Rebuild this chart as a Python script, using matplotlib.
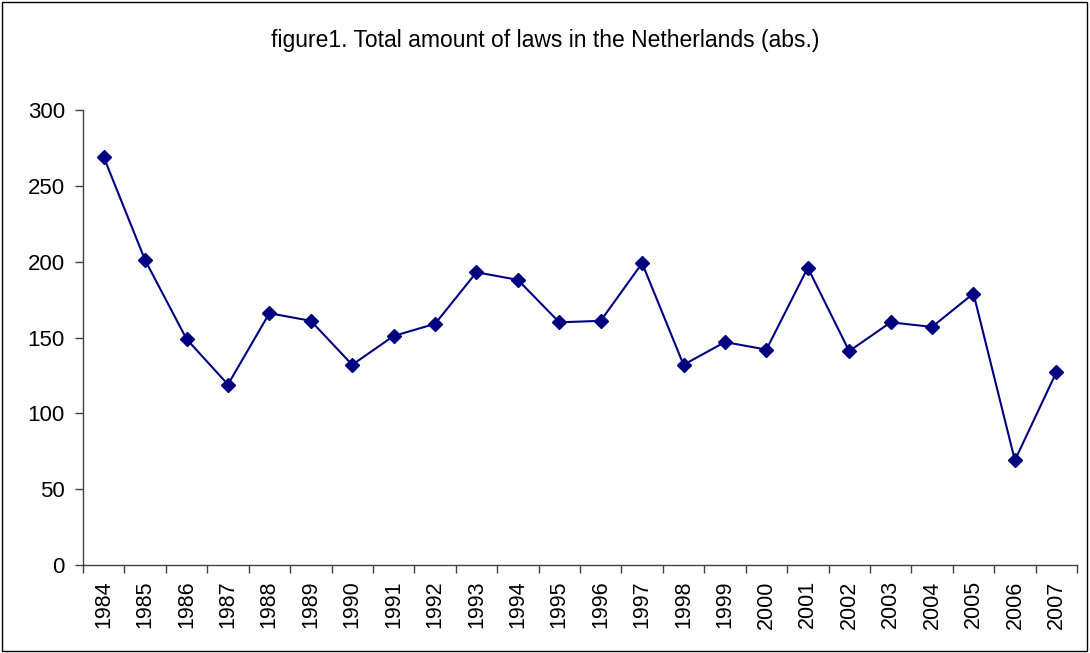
import matplotlib
matplotlib.use("Agg")
import matplotlib.pyplot as plt
from matplotlib.patches import Rectangle
import numpy as np

years = ["1984", "1985", "1986", "1987", "1988", "1989", "1990", "1991", "1992", "1993",
         "1994", "1995", "1996", "1997", "1998", "1999", "2000", "2001", "2002", "2003",
         "2004", "2005", "2006", "2007"]
laws = [269, 201, 149, 119, 166, 161, 132, 151, 159, 193,
        188, 160, 161, 199, 132, 147, 142, 196, 141, 160,
        157, 179, 69, 127]
yticks = [0, 50, 100, 150, 200, 250, 300]
title = "figure1. Total amount of laws in the Netherlands (abs.)"

plt.rcParams['font.family'] = ['Liberation Sans', 'DejaVu Sans']

fig = plt.figure(figsize=(10.9, 6.53), dpi=100)
ax = fig.add_axes([83/1090, 1-565/653, 994/1090, 455/653])

x = np.arange(len(years))
ax.plot(x, laws, color='#000080', linewidth=1.5, marker='D', markersize=7,
        markerfacecolor='#000080', markeredgecolor='#000080')

ax.set_xlim(-0.5, len(years) - 0.5)
ax.set_ylim(0, 300)
ax.set_yticks(yticks)
ax.set_yticklabels([str(v) for v in yticks], fontsize=16)
ax.set_xticks(x)
ax.set_xticklabels(years, rotation=90, fontsize=15.5)
ax.set_xticks(np.arange(len(years) + 1) - 0.5, minor=True)
ax.tick_params(axis='x', which='major', length=0, pad=11)
ax.tick_params(axis='x', which='minor', length=6, width=1, color='#404040', direction='out')
ax.tick_params(axis='y', length=6, width=1, color='#404040', direction='out', pad=7)

for s in ['top', 'right']:
    ax.spines[s].set_visible(False)
for s in ['left', 'bottom']:
    ax.spines[s].set_color('#404040')
    ax.spines[s].set_linewidth(1)

fig.text(0.5, 1-41/653, title, ha='center', va='center', fontsize=16.5)

fig.patches.append(Rectangle((2/1090, 2/653), 1085/1090, 649/653, transform=fig.transFigure,
                             fill=False, edgecolor='black', linewidth=1))

fig.savefig("out.png", dpi=100)
